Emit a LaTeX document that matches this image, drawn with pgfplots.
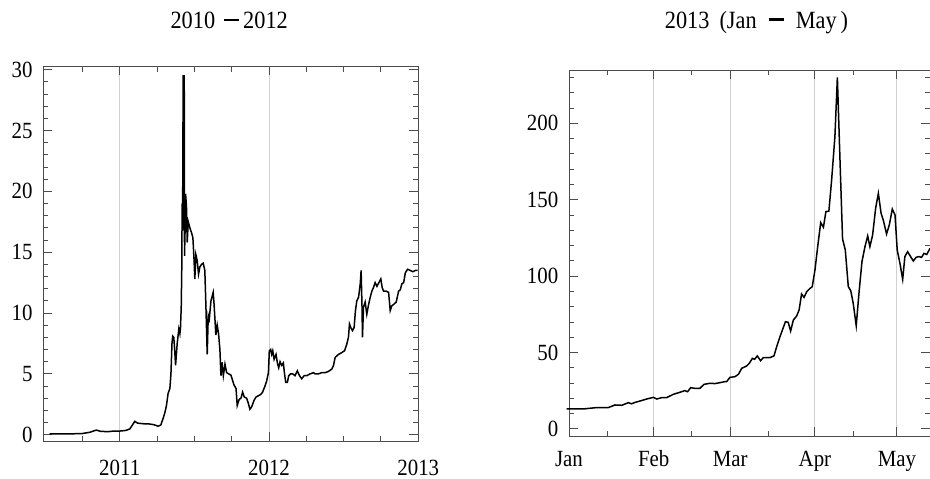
\documentclass[border=0pt]{standalone}
\usepackage{fontspec}
\setmainfont{Liberation Serif}[FakeStretch=0.9]
\usepackage{pgfplots}
\usepackage{pgfplotstable}
\pgfplotsset{compat=1.18}

% Daily price, July 2010 -- December 2012 (x in decimal years)
\pgfplotstableread{
year price
2010.530 0.06
2010.560 0.07
2010.600 0.07
2010.650 0.065
2010.700 0.08
2010.750 0.10
2010.800 0.20
2010.830 0.33
2010.845 0.38
2010.870 0.28
2010.920 0.25
2010.960 0.30
2011.000 0.30
2011.040 0.35
2011.067 0.47
2011.085 0.80
2011.101 1.10
2011.120 0.95
2011.160 0.90
2011.200 0.88
2011.230 0.82
2011.257 0.70
2011.275 0.80
2011.291 1.35
2011.302 1.80
2011.313 2.40
2011.324 3.40
2011.336 3.80
2011.343 5.00
2011.350 7.50
2011.355 8.10
2011.362 8.00
2011.368 7.00
2011.374 5.70
2011.385 7.50
2011.396 8.70
2011.403 8.30
2011.407 8.80
2011.412 10.5
2011.416 14.0
2011.418 19.0
2011.421 16.8
2011.425 29.5
2011.432 29.5
2011.434 14.7
2011.438 17.0
2011.441 19.8
2011.447 18.8
2011.452 15.8
2011.459 17.5
2011.470 17.0
2011.481 16.6
2011.490 16.2
2011.497 14.6
2011.503 12.8
2011.510 14.8
2011.519 14.3
2011.528 13.2
2011.537 13.8
2011.548 14.0
2011.559 14.1
2011.570 13.5
2011.577 10.7
2011.586 6.6
2011.593 9.8
2011.600 9.5
2011.611 11.0
2011.626 11.7
2011.632 10.7
2011.644 8.2
2011.653 9.0
2011.662 8.3
2011.671 7.0
2011.678 4.85
2011.685 5.95
2011.694 4.85
2011.705 5.8
2011.716 5.1
2011.730 5.0
2011.745 4.9
2011.765 4.1
2011.779 3.8
2011.787 2.4
2011.800 2.9
2011.812 3.0
2011.823 3.5
2011.834 3.1
2011.850 3.0
2011.861 2.6
2011.872 2.1
2011.884 2.3
2011.899 2.8
2011.913 3.1
2011.928 3.2
2011.944 3.3
2011.957 3.5
2011.973 4.0
2011.984 4.4
2011.996 5.1
2012.002 6.9
2012.011 7.0
2012.018 6.6
2012.025 6.9
2012.034 6.2
2012.047 6.6
2012.056 5.9
2012.065 5.5
2012.074 6.0
2012.085 5.7
2012.096 5.9
2012.103 5.1
2012.112 4.3
2012.123 4.3
2012.132 4.85
2012.145 5.0
2012.159 5.0
2012.174 4.85
2012.190 5.25
2012.204 4.85
2012.219 4.6
2012.235 4.85
2012.253 4.85
2012.275 5.0
2012.298 5.1
2012.309 5.0
2012.331 5.0
2012.353 5.1
2012.376 5.1
2012.398 5.2
2012.421 5.4
2012.432 5.7
2012.443 6.35
2012.465 6.6
2012.488 6.75
2012.506 6.9
2012.521 7.45
2012.532 8.0
2012.539 9.1
2012.548 8.8
2012.559 8.55
2012.570 8.8
2012.579 10.2
2012.588 11.0
2012.600 11.3
2012.611 12.4
2012.617 13.5
2012.623 10.5
2012.626 8.0
2012.633 10.5
2012.644 10.9
2012.655 9.9
2012.667 10.7
2012.678 11.3
2012.689 11.8
2012.700 12.1
2012.711 12.5
2012.723 12.2
2012.736 12.5
2012.749 12.8
2012.758 12.1
2012.767 11.8
2012.785 11.8
2012.801 11.7
2012.812 10.2
2012.823 10.6
2012.834 10.7
2012.852 10.9
2012.868 11.8
2012.879 11.9
2012.890 12.4
2012.902 12.5
2012.913 13.3
2012.928 13.6
2012.946 13.5
2012.964 13.4
2012.980 13.5
2012.996 13.5
}\earlydata

% Daily price, January -- mid May 2013 (x in days since 1 January)
\pgfplotstableread{
day price
-0.85 13.1
5.2 13.1
10.1 14.0
14.4 14.0
16.8 15.7
19.3 15.5
21.7 17.2
22.9 16.5
24.2 17.4
26.0 18.3
28.4 19.6
30.9 20.7
32.1 19.6
33.9 20.5
35.7 20.5
38.2 22.7
40.6 24.0
42.4 25.1
43.4 24.4
44.5 27.0
46.1 26.6
47.9 26.6
49.4 29.2
51.6 29.9
53.4 29.7
55.2 30.3
57.1 31.0
57.7 31.0
58.9 33.8
60.7 34.2
62.0 35.8
63.2 39.7
65.0 41.2
66.0 43.0
67.1 46.2
67.9 45.6
68.9 47.8
70.1 44.7
71.1 46.7
73.5 46.7
75.0 47.8
76.0 53.9
77.2 60.4
78.1 64.8
79.2 70.2
80.2 69.8
81.1 64.1
82.1 71.3
83.3 73.9
84.2 77.9
85.1 88.3
86.0 86.1
87.0 89.9
88.2 92.0
89.0 93.1
90.0 104.0
91.0 119.3
92.1 135.0
93.1 132.0
94.0 142.2
95.1 142.6
96.1 162.9
97.3 191.3
98.2 230.1
99.2 173.8
100.1 124.3
101.1 117.1
102.2 93.1
103.1 90.5
104.0 82.2
105.1 67.6
106.1 88.8
107.2 109.5
108.3 119.3
109.3 126.3
110.1 119.3
111.1 126.9
112.2 144.4
113.2 154.2
114.2 141.1
115.0 136.7
116.2 127.6
117.2 133.5
118.3 143.9
119.3 140.0
120.1 117.1
121.1 108.4
122.1 97.9
122.9 112.8
123.9 116.0
125.0 112.8
126.0 109.9
127.0 112.3
128.0 112.8
129.0 112.3
129.9 114.9
130.9 114.2
132.1 118.2
}\recentdata

\newcommand{\labelfont}{\fontsize{11.6pt}{14pt}\selectfont}
\newcommand{\titlefont}{\fontsize{12.4pt}{15pt}\selectfont}
% heavy dash used in the panel titles
\newcommand{\heavydash}{\rule[3.5pt]{7.5pt}{1.3pt}}

\begin{document}
\labelfont
\begin{tikzpicture}
\useasboundingbox (0,0) rectangle (465pt,239pt);
\pgfplotsset{
  framed/.style={
    scale only axis,
    anchor=south west,
    axis line style={draw=black!70, line width=0.5pt},
    tick style={draw=black!70, line width=0.5pt},
    tick align=inside,
    tick pos=both,
    major tick length=4.5pt,
    minor tick length=2.6pt,
    xmajorgrids,
    grid style={draw=black!18, line width=0.5pt},
    tick label style={inner sep=0pt, font=\labelfont},
    yticklabel style={anchor=east, xshift=-5.2pt},
    every axis title shift=0pt,
    title style={anchor=base, at={(0.5,1)}, inner sep=0pt, font=\titlefont},
    /pgf/number format/assume math mode=true,
  },
}
\begin{axis}[framed,
  at={(21.65pt,18.3pt)}, width=187.5pt, height=187.5pt,
  xmin=2010.488, xmax=2013, ymin=-0.55, ymax=30.27,
  xtick={2011,2012,2013}, xticklabels={2011,2012,2013},
  minor xtick={2010.75,2011.25,2011.5,2011.75,2012.25,2012.5,2012.75},
  ytick={0,5,...,30}, yticklabels={0,5,10,15,20,25,30},
  minor ytick={1,2,3,4,6,7,8,9,11,12,13,14,16,17,18,19,21,22,23,24,26,27,28,29},
  xticklabel style={anchor=base, yshift=-16.8pt},
  title={2010\hspace{4.5pt}\heavydash\hspace{2pt}2012},
  title style={yshift=19pt, xshift=-0.8pt}]
\addplot[black, line width=0.75pt] table[x=year, y=price] {\earlydata};
\end{axis}
\begin{axis}[framed,
  at={(284.5pt,21pt)}, width=180.5pt, height=183pt,
  xmin=0, xmax=132.1, ymin=-4.6, ymax=234.9, clip=false,
  xtick={0,31,59,90,120}, xticklabels={Jan,Feb,Mar,Apr,May},
  minor xtick={14,45,73,104},
  ytick={0,50,...,200}, yticklabels={0,50,100,150,200},
  minor ytick={10,20,30,40,60,70,80,90,110,120,130,140,160,170,180,190,210,220,230},
  xticklabel style={anchor=base, yshift=-15.3pt},
  title={2013\hspace{5pt}(Jan\hspace{6pt}\heavydash\hspace{6pt}May\hspace{2pt})},
  title style={yshift=21pt, xshift=3.5pt}]
\addplot[black, line width=0.75pt] table[x=day, y=price] {\recentdata};
\end{axis}
\end{tikzpicture}
\end{document}
